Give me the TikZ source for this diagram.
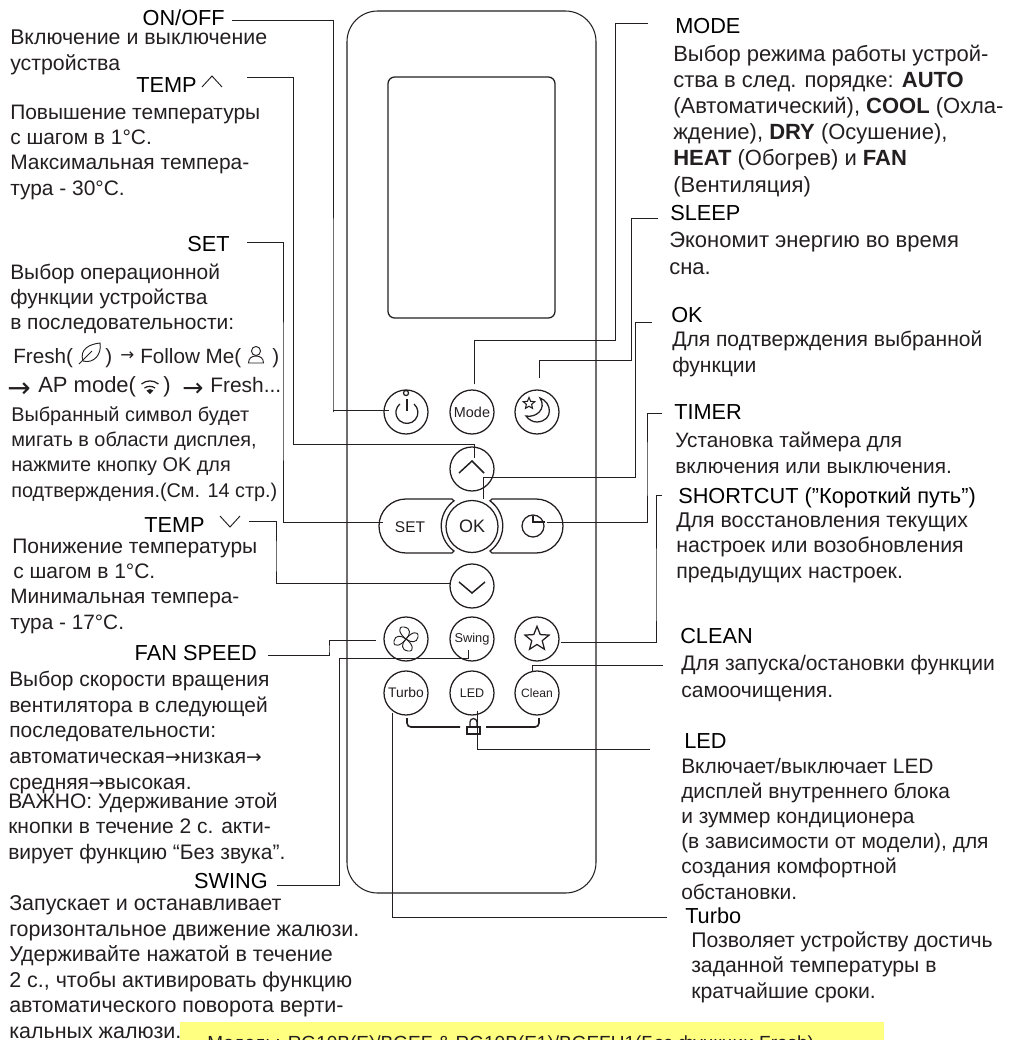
\documentclass[tikz,border=0pt]{standalone}
\usepackage{fontspec}
\setmainfont{Liberation Sans}
\newfontfamily\arrowfont{DejaVu Sans}
\usetikzlibrary{shapes.geometric}
\definecolor{ink}{HTML}{231F20}
\definecolor{notebar}{HTML}{FFFF80}
\newcommand{\arr}{{\arrowfont\fontsize{14}{14}\selectfont →}}
\tikzset{
  x=0.75pt, y=0.75pt,
  txt/.style 2 args={font=\fontsize{#1}{#2}\selectfont, text=ink, align=left, anchor=base west, inner sep=0pt},
  arrowmark/.style={font=\arrowfont\fontsize{#1}{#1}\selectfont, text=ink, anchor=base west, inner sep=0pt},
  title/.style={font=\fontsize{16.3}{18}\selectfont, text=black, anchor=base west, inner sep=0pt, text height=10.5pt, text depth=0pt},
  titler/.style={title, anchor=base east},
  key/.style={draw=ink, line width=0.95pt, circle, minimum size=33pt, inner sep=0pt, text=ink},
  pill/.style={draw=ink, line width=0.95pt},
  glyph/.style={draw=ink, line width=0.95pt},
  thin glyph/.style={draw=ink, line width=0.7pt},
  leader/.style={draw=ink, line width=0.75pt},
}
\begin{document}
\begin{tikzpicture}
    \clip (0,0) rectangle (1008,-1040);
    % Note bar
    \fill[notebar] (180,-1022) rectangle (884,-1040);
    \node[txt={14.25}{17}] (note) at (207,-1049) {Модель: RG10B(E)/BGEF \& RG10B(E1)/BGEFU1(Без функции Fresh)};

    % Remote body
    \draw[line width=0.8pt, draw=ink, rounded corners=23pt] (347,-11) rectangle (596,-893);
    \draw[glyph, rounded corners=5pt] (388,-77) rectangle (555,-318);

    % Top row
    \node[key] (btnPower) at (406,-412) {};
    \node[key, font=\fontsize{10.8}{12}\selectfont] (btnMode) at (472,-412) {Mode};
    \node[key] (btnSleep) at (537,-412) {};
    \draw[glyph] (406,-393) circle[radius=1.9pt];
    \draw[glyph] (407,-399) -- (407,-411);
    \draw[glyph] (414,-404) arc[start angle=50, end angle=-230, radius=8.25pt];
    \draw[glyph] (540,-398) .. controls (552,-402) and (554,-421) .. (537,-422) .. controls (533,-422) and (529,-420) .. (526,-416) .. controls (536,-418) and (547,-409) .. cycle;
    \node[star, star points=5, star point ratio=2.2, draw=ink, line width=0.8pt, minimum size=9pt, inner sep=0pt] (starSleep) at (529,-403.5) {};

    % Arrow keys and centre row
    \node[key] (btnUp) at (472,-469) {};
    \node[key] (btnDown) at (472,-586) {};
    \draw[glyph, line width=1.1pt] (459,-473) -- (472,-461) -- (484,-473);
    \draw[glyph, line width=1.1pt] (459,-582) -- (472,-593) -- (485,-582);
    \node[key, minimum size=39pt, font=\fontsize{13.5}{15}\selectfont] (btnOk) at (472,-526.5) {OK};
    \draw[pill] (452,-499) -- (406,-499) arc[start angle=90, end angle=270, radius=20.25pt] -- (452,-553) -- (454,-551) arc[start angle=234, end angle=126, radius=23.25pt] -- cycle;
    \draw[pill] (492,-499) -- (536,-499) arc[start angle=90, end angle=-90, radius=20.25pt] -- (492,-553) -- (490,-551) arc[start angle=-54, end angle=54, radius=23.25pt] -- cycle;
    \node[font=\fontsize{11.6}{13}\selectfont, text=ink, inner sep=0pt] (btnSet) at (410,-527) {SET};
    \node[draw=ink, line width=0.95pt, circle, minimum size=16.5pt, inner sep=0pt] (btnTimer) at (533,-526) {};
    \draw[glyph] (533,-516) -- (533,-522) -- (545,-522);

    % Fan row
    \node[key] (btnFan) at (406,-639) {};
    \node[key, font=\fontsize{9.6}{11}\selectfont] (btnSwing) at (472,-639) {Swing};
    \node[key] (btnStar) at (537,-639) {};
    \node[star, star points=5, star point ratio=2.3, draw=ink, line width=0.95pt, minimum size=19pt, inner sep=0pt] (starShort) at (537,-639) {};
    \draw[thin glyph] (406,-639) .. controls (399,-634) and (397,-626) .. (404,-627) .. controls (411,-628) and (411,-634) .. (406,-639);
    \draw[thin glyph] (406,-639) .. controls (411,-632) and (419,-630) .. (418,-637) .. controls (417,-643) and (411,-643) .. (406,-639);
    \draw[thin glyph] (406,-639) .. controls (413,-644) and (415,-652) .. (408,-651) .. controls (401,-650) and (401,-644) .. (406,-639);
    \draw[thin glyph] (406,-639) .. controls (401,-646) and (393,-648) .. (394,-641) .. controls (395,-635) and (401,-635) .. (406,-639);

    % Bottom row
    \node[key, font=\fontsize{10.4}{12}\selectfont] (btnTurbo) at (406,-693) {Turbo};
    \node[key, font=\fontsize{9.4}{11}\selectfont] (btnLed) at (472,-693) {LED};
    \node[key, font=\fontsize{9.1}{11}\selectfont] (btnClean) at (537,-693) {Clean};

    % Lock
    \draw[glyph, line width=1.2pt, rounded corners=3pt] (407,-718) -- (407,-727) -- (460,-727);
    \draw[glyph, line width=1.2pt, rounded corners=3pt] (539,-718) -- (539,-727) -- (486,-727);
    \draw[glyph, line width=1.2pt] (467,-727) rectangle (480,-734);
    \draw[glyph] (470,-727) -- (470,-722) arc[start angle=180, end angle=0, radius=2.6pt] -- (477,-727);

    % Left titles
    \node[titler] (lblOnoff) at (225,-25) {ON/OFF};
    \node[titler] (lblTempUp) at (197,-92) {TEMP};
    \node[titler] (lblSet) at (230,-251) {SET};
    \node[titler] (lblTempDown) at (205,-532) {TEMP};
    \node[titler] (lblFan) at (257,-660) {FAN SPEED};
    \node[titler] (lblSwing) at (268,-888) {SWING};
    \draw[thin glyph] (202,-87) -- (212,-76) -- (222,-87);
    \draw[thin glyph] (220,-516) -- (230,-527) -- (240,-516);

    % Left texts
    \node[txt={16}{19}] (txtOnoff) at (10,-70) {Включение и выключение\\устройства};
    \node[txt={15.7}{18.8}] (txtTempUp) at (10,-195) {Повышение температуры\\с шагом в 1°C.\\Максимальная темпера-\\тура - 30°C.};
    \node[txt={15.7}{18.6}] (txtSet) at (10,-329) {Выбор операционной\\функции устройства\\в последовательности:};
    \node[txt={15.5}{18}] (txtFresh) at (13,-363) {Fresh(};
    \node[txt={15.5}{18}] (txtFreshEnd) at (105,-363) {)};
    \node[arrowmark=12.5] (arrFollow) at (120,-360) {→};
    \node[txt={15.5}{18}] (txtFollow) at (140,-363) {Follow Me(};
    \node[txt={15.5}{18}] (txtFollowEnd) at (272,-363) {)};
    \node[arrowmark=21] (arrAp) at (7,-397) {→};
    \node[txt={16.5}{18}] (txtAp) at (38,-392) {AP mode(};
    \node[txt={16.5}{18}] (txtApEnd) at (163,-392) {)};
    \node[arrowmark=19] (arrFresh) at (182,-396) {→};
    \node[txt={15.7}{18}] (txtFreshNext) at (210,-392) {Fresh...};
    \node[txt={14.9}{19}] (txtBlink) at (11,-497) {Выбранный символ будет\\мигать в области дисплея,\\нажмите кнопку OK для\\подтверждения.(См. 14 стр.)};
    \node[txt={15.75}{18}] (txtLower) at (12,-553) {Понижение температуры};
    \node[txt={15.75}{18}] (txtLowerB) at (13,-578) {с шагом в 1°C.};
    \node[txt={15.6}{19.2}] (txtLowerC) at (10,-629) {Минимальная темпера-\\тура - 17°C.};
    \node[txt={15.7}{19.2}] (txtFan) at (9,-789) {Выбор скорости вращения\\вентилятора в следующей\\последовательности:\\автоматическая\arr низкая\arr\\средняя\arr высокая.};
    \node[txt={15.75}{19}] (txtHold) at (8,-859) {ВАЖНО: Удерживание этой\\кнопки в течение 2 с. акти-\\вирует функцию “Без звука”.};
    \node[txt={16.1}{19.1}] (txtSwing) at (9,-1038) {Запускает и останавливает\\горизонтальное движение жалюзи.\\Удерживайте нажатой в течение\\2 с., чтобы активировать функцию\\автоматического поворота верти-\\кальных жалюзи.};

    % Small icons in the text
    \draw[thin glyph] (83,-361) .. controls (79,-349) and (90,-344) .. (100,-343) .. controls (102,-354) and (94,-364) .. cycle;
    \draw[thin glyph] (79,-364) -- (92,-351);
    \draw[thin glyph] (256,-351) circle[radius=3.4pt];
    \draw[thin glyph] (248.5,-363) -- (263.5,-363) .. controls (263.5,-358) and (260,-356) .. (256,-356) .. controls (252,-356) and (248.5,-358) .. cycle;
    \draw[glyph] (141.5,-384) arc[start angle=130, end angle=50, radius=9.9pt];
    \draw[glyph] (144.5,-388) arc[start angle=125, end angle=55, radius=6.9pt];
    \fill[ink] (150,-394) -- (146.5,-390.5) arc[start angle=135, end angle=45, radius=3.7pt] -- cycle;

    % Right titles
    \node[title] (lblMode) at (675,-33) {MODE};
    \node[title] (lblSleep) at (670,-220) {SLEEP};
    \node[title] (lblOk) at (671,-322) {OK};
    \node[title] (lblTimer) at (674,-419) {TIMER};
    \node[title] (lblShort) at (678,-503) {SHORTCUT (”Короткий путь”)};
    \node[title] (lblClean) at (680,-643) {CLEAN};
    \node[title] (lblLed) at (684,-748) {LED};
    \node[title] (lblTurbo) at (685,-923) {Turbo};

    % Right texts
    \node[txt={16.5}{19.6}] (txtMode) at (673,-192) {Выбор режима работы устрой-\\ства в след. порядке: \textbf{AUTO}\\(Автоматический), \textbf{COOL} (Охла-\\ждение), \textbf{DRY} (Осушение),\\\textbf{HEAT} (Обогрев) и \textbf{FAN}\\(Вентиляция)};
    \node[txt={16.5}{20}] (txtSleep) at (669,-274) {Экономит энергию во время\\сна.};
    \node[txt={15.8}{18.8}] (txtOk) at (672,-372) {Для подтверждения выбранной\\функции};
    \node[txt={15.6}{18.8}] (txtTimer) at (675,-473) {Установка таймера для\\включения или выключения.};
    \node[txt={16}{19}] (txtShort) at (676,-578) {Для восстановления текущих\\настроек или возобновления\\предыдущих настроек.};
    \node[txt={15.8}{20}] (txtClean) at (681,-697) {Для запуска/остановки функции\\самоочищения.};
    \node[txt={15.7}{18.9}] (txtLed) at (681,-899) {Включает/выключает LED\\дисплей внутреннего блока\\и зуммер кондиционера\\(в зависимости от модели), для\\создания комфортной\\обстановки.};
    \node[txt={15.9}{18.8}] (txtTurbo) at (691,-998) {Позволяет устройству достичь\\заданной температуры в\\кратчайшие сроки.};

    % Leaders on the left
    \draw[leader] ([shift={(5.2pt,-2pt)}]lblOnoff.east) -| (333,-412) |- ([shift={(4.5pt,1.5pt)}]btnPower.west);
    \draw[leader] ([shift={(37.5pt,6pt)}]lblTempUp.east) -| (293,-444) -| ([shift={(1.5pt,8.25pt)}]btnUp.center);
    \draw[leader] ([shift={(12.7pt,1.5pt)}]lblSet.east) -| (283,-400) |- ([shift={(-9pt,3.75pt)}]btnSet.west);
    \draw[leader] ([shift={(33pt,3pt)}]lblTempDown.east) -| (276,-560) |- ([shift={(0.8pt,2.25pt)}]btnDown.west);
    \draw[leader] ([shift={(8pt,-2.2pt)}]lblFan.east) -| (329,-650) |- ([shift={(-5.25pt,-0.75pt)}]btnFan.west);
    \draw[leader] ([shift={(6.7pt,-3pt)}]lblSwing.east) -| (339,-658) -| ([shift={(-3pt,-8.25pt)}]btnSwing.center);

    % Leaders on the right
    \draw[leader] ([shift={(1.5pt,3.75pt)}]btnMode.north) |- (615,-340) |- ([shift={(-20.25pt,2.25pt)}]lblMode.west);
    \draw[leader] ([shift={(1.5pt,8.25pt)}]btnSleep.north) |- (631,-360) |- ([shift={(-9pt,-3.75pt)}]lblSleep.west);
    \draw[leader] ([shift={(8.25pt,1pt)}]btnOk.north) |- (635,-477) |- ([shift={(-14.25pt,-5.25pt)}]lblOk.west);
    \draw[leader] ([shift={(1.5pt,3pt)}]btnTimer.east) -| (647,-470) |- ([shift={(-9pt,-0.75pt)}]lblTimer.west);
    \draw[leader] ([shift={(0.75pt,-2.25pt)}]btnStar.east) -| (656,-600) |- ([shift={(-12pt,0.75pt)}]lblShort.west);
    \draw[leader] ([shift={(-3.75pt,-1.5pt)}]btnClean.north) |- ([shift={(-12.75pt,-21.75pt)}]lblClean.west);
    \draw[leader] ([shift={(3.75pt,3.75pt)}]btnLed.south) |- ([shift={(-25.5pt,-6pt)}]lblLed.west);
    \draw[leader] ([shift={(-10.5pt,2.25pt)}]btnTurbo.south) |- ([shift={(-13.5pt,-0.75pt)}]lblTurbo.west);
\end{tikzpicture}
\end{document}
